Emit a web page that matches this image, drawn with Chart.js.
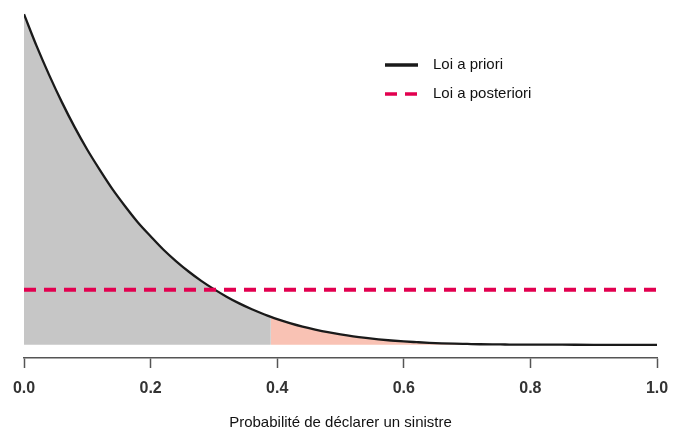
<!DOCTYPE html>
<html><head><meta charset="utf-8">
<script src="https://cdn.jsdelivr.net/npm/chart.js@4/dist/chart.umd.min.js"></script>
<style>html,body{margin:0;padding:0;background:#fff}canvas{display:block}</style>
</head><body>
<canvas id="c" width="677" height="432"></canvas>
<script>
// Density values
const xValues = [0,0.02,0.04,0.06,0.08,0.10,0.12,0.14,0.16,0.18,0.20,0.22,0.24,0.26,0.28,0.30,0.32,0.34,0.36,0.38,0.39,0.40,0.42,0.44,0.46,0.48,0.50,0.52,0.54,0.56,0.58,0.60,0.62,0.64,0.66,0.68,0.70,0.72,0.74,0.76,0.78,0.80,0.85,0.90,0.95,1.0];
const priorDensity = [6.0,5.42,4.89,4.40,3.95,3.54,3.17,2.82,2.51,2.22,1.97,1.73,1.52,1.33,1.16,1.01,0.873,0.751,0.644,0.550,0.507,0.467,0.394,0.330,0.276,0.228,0.188,0.153,0.124,0.099,0.078,0.061,0.048,0.036,0.027,0.020,0.015,0.010,0.007,0.005,0.003,0.002,0.001,0,0,0];
const posteriorX = [0,1];
const posteriorDensity = [1,1];
const splitX = 0.39;
const xTicks = [0,0.2,0.4,0.6,0.8,1.0];
const xTickLabels = ['0.0','0.2','0.4','0.6','0.8','1.0'];
const seriesLabels = ['Loi a priori','Loi a posteriori'];
const xTitle = 'Probabilité de déclarer un sinistre';

const curve = xValues.map((x,i)=>({x:x,y:priorDensity[i]}));
const leftPart = curve.filter(p=>p.x<=splitX);
const rightPart = curve.filter(p=>p.x>=splitX);
const flat = posteriorX.map((x,i)=>({x:x,y:posteriorDensity[i]}));

const RED = '#e2004f';
const FONT = '"Liberation Sans", Arial, Helvetica, sans-serif';

const legendPlugin = {
  id:'customLegend',
  afterDraw(chart){
    const ctx = chart.ctx;
    const items = chart.data.datasets.filter(d=>d.showInLegend);
    ctx.save();
    items.forEach((d,i)=>{
      const y = 65 + i*29;
      ctx.strokeStyle = d.borderColor;
      ctx.lineWidth = 3.5;
      ctx.setLineDash(d.borderDash && d.borderDash.length ? [12,8] : []);
      ctx.beginPath(); ctx.moveTo(385,y); ctx.lineTo(418,y); ctx.stroke();
      ctx.setLineDash([]);
      ctx.fillStyle = '#111';
      ctx.font = '15px ' + FONT;
      ctx.textBaseline = 'middle';
      ctx.fillText(d.label, 433, y);
    });
    ctx.restore();
  }
};

new Chart(document.getElementById('c'), {
  type:'line',
  data:{datasets:[
    {label:'fillLeft', data:leftPart, fill:'origin', backgroundColor:'#c6c6c6', borderWidth:0, pointRadius:0, cubicInterpolationMode:'monotone', order:5},
    {label:'fillRight', data:rightPart, fill:'origin', backgroundColor:'#f9c2b4', borderWidth:0, pointRadius:0, cubicInterpolationMode:'monotone', order:4},
    {label:seriesLabels[0], data:curve, fill:false, borderColor:'#1a1a1a', borderWidth:2.3, pointRadius:0, cubicInterpolationMode:'monotone', order:2, showInLegend:true},
    {label:seriesLabels[1], data:flat, fill:false, borderColor:RED, borderWidth:4, borderDash:[12,8], pointRadius:0, order:1, showInLegend:true}
  ]},
  options:{
    responsive:false, animation:false,
    layout:{padding:{left:24,right:20,top:1,bottom:0}},
    plugins:{legend:{display:false}, tooltip:{enabled:false}},
    scales:{
      x:{type:'linear', min:0, max:1,
        afterBuildTicks(ax){ ax.ticks = xTicks.map(v=>({value:v})); },
        afterFit(s){ s.height = 74; s.paddingLeft = 0; s.paddingRight = 0; },
        grid:{drawOnChartArea:false, drawTicks:true, tickLength:10, tickColor:'#555', tickWidth:1.5},
        border:{display:true, color:'#555', width:1.5},
        ticks:{padding:11, color:'#333', maxRotation:0, autoSkip:false,
          font:{family:FONT, size:16, weight:'bold'},
          callback:(v,i)=>xTickLabels[i]},
        title:{display:true, text:xTitle, color:'#111',
          font:{family:FONT, size:15},
          padding:{top:8,bottom:0}}
      },
      y:{display:false, min:-0.24, max:6.24}
    }
  },
  plugins:[legendPlugin]
});
</script>
</body></html>
